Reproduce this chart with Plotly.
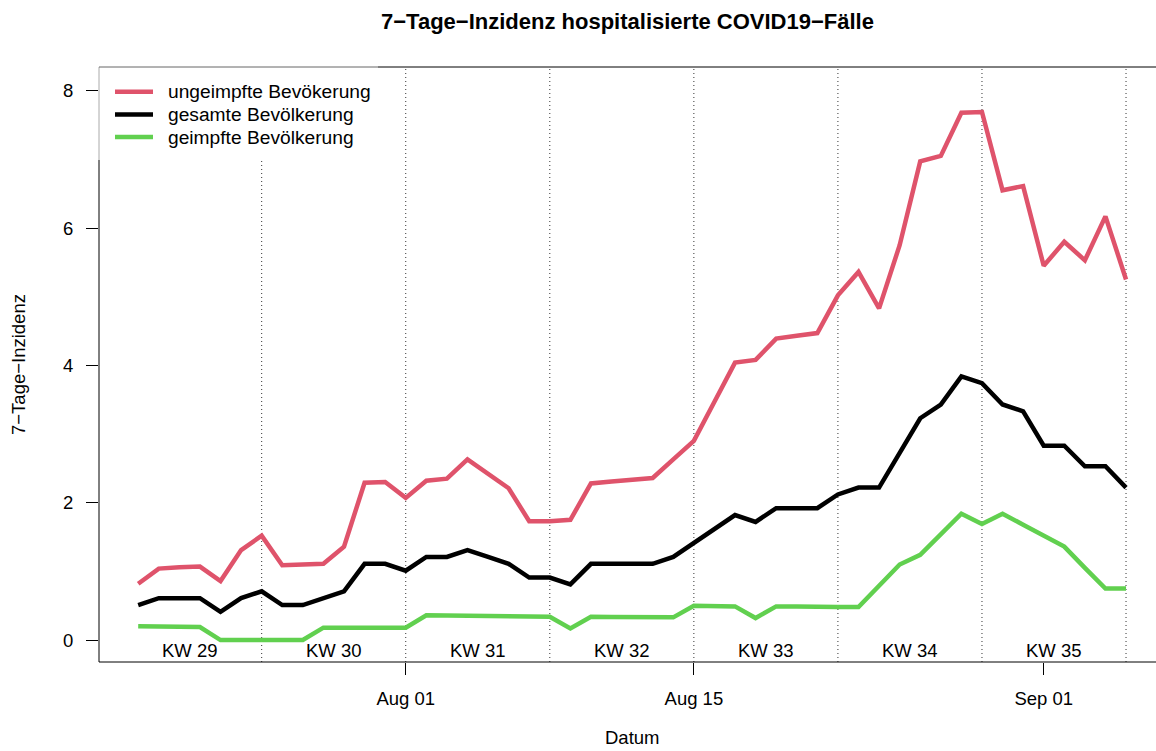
import pandas as pd
import plotly.graph_objects as go

# ---- data ----
dates = pd.date_range("2021-07-19", "2021-09-05", freq="D")

ungeimpft = [0.82, 1.04, 1.06, 1.07, 0.86, 1.31, 1.52, 1.09, 1.10, 1.11,
             1.36, 2.29, 2.30, 2.07, 2.32, 2.35, 2.63, 2.42, 2.21, 1.73,
             1.73, 1.75, 2.28, 2.31, 2.34, 2.36, 2.63, 2.90, 3.47, 4.04,
             4.08, 4.39, 4.43, 4.47, 5.02, 5.36, 4.83, 5.75, 6.97, 7.05,
             7.68, 7.69, 6.55, 6.61, 5.45, 5.80, 5.53, 6.17, 5.25]

gesamt = [0.51, 0.61, 0.61, 0.61, 0.41, 0.61, 0.71, 0.51, 0.51, 0.61,
          0.71, 1.11, 1.11, 1.01, 1.21, 1.21, 1.31, 1.21, 1.11, 0.91,
          0.91, 0.81, 1.11, 1.11, 1.11, 1.11, 1.21, 1.41, 1.62, 1.82,
          1.72, 1.92, 1.92, 1.92, 2.12, 2.22, 2.22, 2.73, 3.23, 3.43,
          3.84, 3.74, 3.43, 3.33, 2.83, 2.83, 2.53, 2.53, 2.22]

geimpft = [0.20, 0.20, 0.19, 0.19, 0.00, 0.00, 0.00, 0.00, 0.00, 0.18,
           0.18, 0.18, 0.18, 0.18, 0.36, 0.355, 0.35, 0.345, 0.345, 0.34,
           0.34, 0.17, 0.34, 0.335, 0.33, 0.33, 0.33, 0.50, 0.50, 0.49,
           0.32, 0.49, 0.49, 0.48, 0.48, 0.48, 0.79, 1.10, 1.24, 1.54,
           1.84, 1.69, 1.84, 1.68, 1.52, 1.36, 1.05, 0.75, 0.75]

series_names = ["ungeimpfte Bevökerung", "gesamte Bevölkerung", "geimpfte Bevölkerung"]
series_colors = ["#DF536B", "#000000", "#61D04F"]

week_ends = pd.to_datetime(["2021-07-25", "2021-08-01", "2021-08-08", "2021-08-15",
                            "2021-08-22", "2021-08-29", "2021-09-05"])
kw_labels = ["KW 29", "KW 30", "KW 31", "KW 32", "KW 33", "KW 34", "KW 35"]

x_tickvals = pd.to_datetime(["2021-08-01", "2021-08-15", "2021-09-01"])
x_ticktext = ["Aug 01", "Aug 15", "Sep 01"]
y_tickvals = [0, 2, 4, 6, 8]

title = "7\u2212Tage\u2212Inzidenz hospitalisierte COVID19\u2212Fälle"
ylabel = "7\u2212Tage\u2212Inzidenz"
xlabel = "Datum"

# ---- layout geometry (pixels) ----
W, H = 1156, 751
L, T, B_EDGE = 99, 67, 662
R_EDGE = W
PH = B_EDGE - T
PW = R_EDGE - L

def px_x(p):
    return (p - L) / PW

def px_y(p):
    return (B_EDGE - p) / PH

FONT = "Liberation Sans, Arial, Helvetica, sans-serif"
FS = 18.5
FS_LEG = 19.2
LW = 4.5

fig = go.Figure()
for vals, name, col in zip([ungeimpft, gesamt, geimpft], series_names, series_colors):
    fig.add_trace(go.Scatter(x=dates, y=vals, mode="lines", name=name,
                             line=dict(color=col, width=LW), showlegend=False))

shapes = []
# dotted week separators
legend_bottom = 160
for d in week_ends:
    top = 1.0
    if d == pd.Timestamp("2021-07-25"):
        top = px_y(legend_bottom)
    shapes.append(dict(type="line", xref="x", yref="paper", x0=d, x1=d, y0=0, y1=top,
                       line=dict(color="#333333", width=1, dash="1px,3px"), layer="below"))

# box lines (right side is outside the window)
legend_right = 378
shapes += [
    dict(type="line", xref="paper", yref="paper", x0=0, x1=1, y0=0, y1=0,
         line=dict(color="black", width=1), layer="above"),
    dict(type="line", xref="paper", yref="paper", x0=0, x1=0, y0=0, y1=px_y(legend_bottom),
         line=dict(color="black", width=1), layer="above"),
    dict(type="line", xref="paper", yref="paper", x0=0, x1=0, y0=px_y(legend_bottom), y1=1,
         line=dict(color="#aaaaaa", width=1), layer="above"),
    dict(type="line", xref="paper", yref="paper", x0=0, x1=px_x(legend_right), y0=1, y1=1,
         line=dict(color="#666666", width=1), layer="above"),
    dict(type="line", xref="paper", yref="paper", x0=px_x(legend_right), x1=1, y0=1, y1=1,
         line=dict(color="black", width=1), layer="above"),
]

annotations = []
# legend (drawn manually to match the R legend geometry)
legend_rows = [91.7, 114.4, 137.1]
for yy, name, col in zip(legend_rows, series_names, series_colors):
    shapes.append(dict(type="line", xref="paper", yref="paper",
                       x0=px_x(115), x1=px_x(153), y0=px_y(yy), y1=px_y(yy),
                       line=dict(color=col, width=LW), layer="above"))
    annotations.append(dict(text=name, xref="paper", yref="paper", x=px_x(166), y=px_y(yy),
                            xanchor="left", yanchor="middle", showarrow=False,
                            font=dict(size=FS_LEG, color="black", family=FONT)))

# KW labels
for d, lab in zip(week_ends, kw_labels):
    annotations.append(dict(text=lab, xref="x", yref="paper", x=d - pd.Timedelta(hours=84),
                            y=px_y(650), xanchor="center", yanchor="middle", showarrow=False,
                            font=dict(size=FS, color="black", family=FONT)))

# axis titles
annotations.append(dict(text=xlabel, xref="paper", yref="paper", x=px_x(632), y=px_y(750),
                        xanchor="center", yanchor="bottom", showarrow=False,
                        font=dict(size=FS, color="black", family=FONT)))
annotations.append(dict(text=ylabel, xref="paper", yref="paper", x=px_x(18), y=px_y(365),
                        xanchor="center", yanchor="middle", showarrow=False, textangle=-90,
                        font=dict(size=FS, color="black", family=FONT)))

fig.update_layout(
    width=W, height=H,
    margin=dict(l=L, r=W - R_EDGE, t=T, b=H - B_EDGE, pad=0),
    paper_bgcolor="white", plot_bgcolor="white",
    font=dict(family=FONT, size=FS, color="black"),
    title=dict(text=title, x=627.5 / W, xref="container", xanchor="center",
               y=1 - 21 / H, yref="container", yanchor="middle",
               font=dict(size=22, family=FONT, color="black", weight="bold")),
    xaxis=dict(type="date",
               range=["2021-07-17 02:17", "2021-09-06 10:57"],
               tickmode="array", tickvals=x_tickvals, ticktext=x_ticktext,
               ticks="outside", ticklen=12, tickwidth=1, tickcolor="black",
               ticklabelstandoff=8,
               showgrid=False, zeroline=False, showline=False,
               tickfont=dict(size=FS, family=FONT, color="black")),
    yaxis=dict(range=[-0.32, 8.345], tickmode="array", tickvals=y_tickvals,
               ticks="outside", ticklen=12, tickwidth=1, tickcolor="black",
               ticklabelstandoff=9,
               showgrid=False, zeroline=False, showline=False,
               tickfont=dict(size=FS, family=FONT, color="black")),
    shapes=shapes,
    annotations=annotations,
    showlegend=False,
)

fig.write_html("out.html")
